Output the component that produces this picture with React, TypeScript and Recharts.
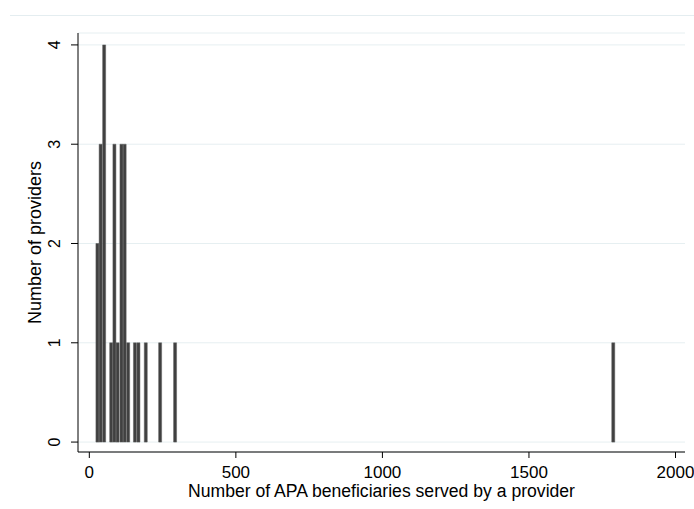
import React from 'react';
import { BarChart, Bar, XAxis, YAxis, CartesianGrid, Label } from 'recharts';

// providers grouped by number of beneficiaries served (bin centres)
const beneficiaries = [28, 39, 51, 75, 86, 97, 110, 121, 133, 156, 168, 193, 242, 293, 1788];
const providers = [2, 3, 4, 1, 3, 1, 3, 3, 1, 1, 1, 1, 1, 1, 1];
const xTicks = [0, 500, 1000, 1500, 2000];
const yTicks = [0, 1, 2, 3, 4];

const data = beneficiaries.map((x, i) => ({ x, count: providers[i] }));

const FONT = '"Liberation Sans", Arial, sans-serif';

function YTick(props: any) {
  const { x, y, payload } = props;
  return (
    <text
      x={x}
      y={y}
      transform={`rotate(-90, ${x}, ${y})`}
      textAnchor="middle"
      fontSize={16}
      fill="#000"
    >
      {payload.value}
    </text>
  );
}

export default function App() {
  return (
    <div style={{ position: 'absolute', left: 0, top: 0, width: 694, height: 509, fontFamily: FONT, background: '#fff' }}>
      {/* outer graph region edge */}
      <div style={{ position: 'absolute', left: 10, top: 15, width: 684, height: 1, background: '#e4edf0' }} />
      <BarChart
        width={694}
        height={509}
        data={data}
        margin={{ top: 33, right: 9, bottom: 0, left: 0 }}
      >
        <CartesianGrid vertical={false} stroke="#e6eff1" />
        <XAxis
          type="number"
          dataKey="x"
          domain={[-38.6, 2032.4]}
          allowDataOverflow
          ticks={xTicks}
          tickSize={6}
          tickMargin={8}
          height={57}
          stroke="#000"
          tick={{ fill: '#000', fontSize: 17 }}
        >
          <Label
            value="Number of APA beneficiaries served by a provider"
            position="insideBottom"
            offset={12}
            style={{ fill: '#000', fontSize: 17.6, textAnchor: 'middle' }}
          />
        </XAxis>
        <YAxis
          type="number"
          domain={[-0.1, 4.12]}
          allowDataOverflow
          ticks={yTicks}
          width={78}
          tickSize={7}
          tickMargin={11}
          stroke="#000"
          tick={<YTick />}
        >
          <Label
            content={({ viewBox }: any) => {
              const cx = viewBox.x + 41;
              const cy = viewBox.y + viewBox.height / 2;
              return (
                <text
                  x={cx}
                  y={cy}
                  transform={`rotate(-90, ${cx}, ${cy})`}
                  textAnchor="middle"
                  fontSize={18}
                  fill="#000"
                >
                  Number of providers
                </text>
              );
            }}
          />
        </YAxis>
        <Bar
          dataKey="count"
          barSize={3}
          fill="#404040"
          stroke="#5c5c5c"
          strokeWidth={0.5}
          isAnimationActive={false}
        />
      </BarChart>
    </div>
  );
}
